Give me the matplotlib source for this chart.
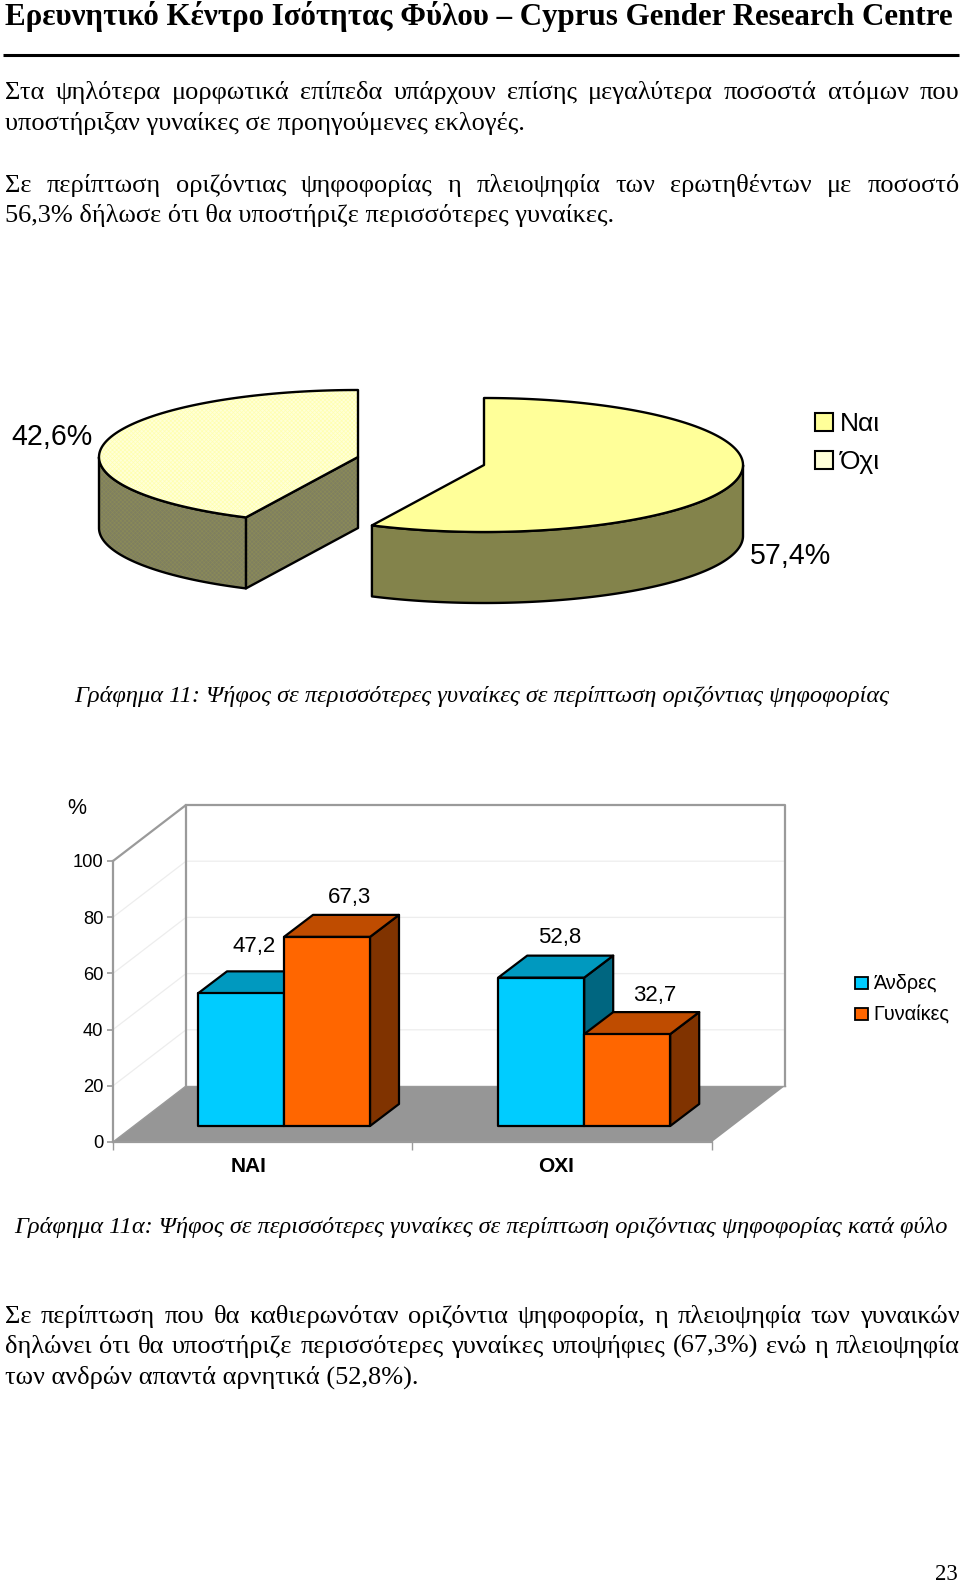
import numpy as np
import matplotlib
matplotlib.use("Agg")
import matplotlib.pyplot as plt
from matplotlib.patches import Rectangle

# ---- data ----
pie_labels = ["Ναι", "Όχι"]
pie_values = [57.4, 42.6]
pie_texts = ["57,4%", "42,6%"]
bar_categories = ["ΝΑΙ", "ΟΧΙ"]
men_values = [47.2, 52.8]
women_values = [67.3, 32.7]
men_texts = ["47,2", "52,8"]
women_texts = ["67,3", "32,7"]
series_labels = ["Άνδρες", "Γυναίκες"]
y_ticks = [0, 20, 40, 60, 80, 100]

header = "Ερευνητικό Κέντρο Ισότητας Φύλου – Cyprus Gender Research Centre"
para_lines = [
    ("Στα ψηλότερα μορφωτικά επίπεδα υπάρχουν επίσης μεγαλύτερα ποσοστά ατόμων που", 99, True),
    ("υποστήριξαν γυναίκες σε προηγούμενες εκλογές.", 130, False),
    ("Σε περίπτωση οριζόντιας ψηφοφορίας η πλειοψηφία των ερωτηθέντων με ποσοστό", 192, True),
    ("56,3% δήλωσε ότι θα υποστήριζε περισσότερες γυναίκες.", 222, False),
    ("Σε περίπτωση που θα καθιερωνόταν οριζόντια ψηφοφορία, η πλειοψηφία των γυναικών", 1323, True),
    ("δηλώνει ότι θα υποστήριζε περισσότερες γυναίκες υποψήφιες (67,3%) ενώ η πλειοψηφία", 1353, True),
    ("των ανδρών απαντά αρνητικά (52,8%).", 1384, False),
]
caption_1 = "Γράφημα 11: Ψήφος σε περισσότερες γυναίκες σε περίπτωση οριζόντιας ψηφοφορίας"
caption_2 = "Γράφημα 11α: Ψήφος σε περισσότερες γυναίκες σε περίπτωση οριζόντιας ψηφοφορίας κατά φύλο"
page_number = "23"

SERIF = "Liberation Serif"
SANS = "Liberation Sans"

fig = plt.figure(figsize=(9.6, 15.84), dpi=100, facecolor="white")
page = fig.add_axes([0, 0, 1, 1])
page.set_xlim(0, 960)
page.set_ylim(1584, 0)
page.axis("off")
renderer = fig.canvas.get_renderer()


def width_of(s, **kw):
    t = page.text(0, 0, s, **kw)
    w = t.get_window_extent(renderer).width
    t.remove()
    return w


def justified(line, y, x0, x1, justify, **kw):
    if not justify:
        page.text(x0, y, line, va="baseline", ha="left", **kw)
        return
    words = line.split(" ")
    widths = [width_of(w, **kw) for w in words]
    gap = (x1 - x0 - sum(widths)) / (len(words) - 1)
    x = x0
    for w, wd in zip(words, widths):
        page.text(x, y, w, va="baseline", ha="left", **kw)
        x += wd + gap


# ---- page text ----
page.text(5, 25, header, family=SERIF, weight="bold", fontsize=22.3, va="baseline", color="black")
page.plot([3, 959], [55, 55], color="black", lw=2.2, solid_capstyle="butt")
for line, y, just in para_lines:
    justified(line, y, 5, 959.5, just, family=SERIF, fontsize=19, color="black")
page.text(482, 702, caption_1, family=SERIF, style="italic", fontsize=17.6, ha="center", va="baseline")
page.text(481, 1233, caption_2, family=SERIF, style="italic", fontsize=17.6, ha="center", va="baseline")
page.text(958, 1580, page_number, family=SERIF, fontsize=16.5, ha="right", va="baseline")

# ---- exploded 3-D pie ----
RX, RY, DEPTH = 259, 67, 71
PROJ = -1.0   # small shift of the slice boundary caused by the 3-D projection
EDGE = dict(edgecolor="black", linewidth=1.7, joinstyle="round")
COL_YES, COL_YES_SIDE = "#FFFF99", "#83834B"
COL_NO, COL_NO_SIDE = "#FFFFD8", "#7F7F60"
HATCH_NO, HATCH_NO_SIDE = "#FFFFB0", "#8A8A58"
plt.rcParams["hatch.linewidth"] = 0.5


def ell(cx, cy, deg):
    """deg is measured clockwise from 12 o'clock."""
    r = np.radians(deg)
    return cx + RX * np.sin(r), cy - RY * np.cos(r)


def dithered(xs, ys, face, pattern):
    page.fill(xs, ys, facecolor=face, edgecolor="none")
    page.fill(xs, ys, facecolor="none", edgecolor=pattern, hatch="xxxxxxxx", linewidth=0)
    page.fill(xs, ys, facecolor="none", **EDGE)


# "Όχι" slice: clockwise from (360 - share) to 360
no_start = 360 - pie_values[1] * 3.6 + PROJ
cx, cy = 358, 457
th = np.linspace(no_start, 360, 200)
x, y = ell(cx, cy, th)
dithered([x[0], cx, cx, x[0]], [y[0], cy, cy + DEPTH, y[0] + DEPTH], COL_NO_SIDE, HATCH_NO_SIDE)
wx, wy = ell(cx, cy, np.linspace(no_start, 270, 100))
dithered(np.r_[wx, wx[::-1]], np.r_[wy, wy[::-1] + DEPTH], COL_NO_SIDE, HATCH_NO_SIDE)
dithered(np.r_[cx, x], np.r_[cy, y], COL_NO, HATCH_NO)

# "Ναι" slice: clockwise from 12 o'clock by its share
yes_end = pie_values[0] * 3.6 + PROJ
cx2, cy2 = 484, 465
x2, y2 = ell(cx2, cy2, np.linspace(0, yes_end, 240))
wx2, wy2 = ell(cx2, cy2, np.linspace(90, yes_end, 200))
page.fill(np.r_[wx2, wx2[::-1]], np.r_[wy2, wy2[::-1] + DEPTH], facecolor=COL_YES_SIDE, **EDGE)
page.fill(np.r_[cx2, x2], np.r_[cy2, y2], facecolor=COL_YES, **EDGE)

page.text(52, 437, pie_texts[1], family=SANS, fontsize=20.6, ha="center", va="center")
page.text(791, 556, pie_texts[0], family=SANS, fontsize=20.6, ha="center", va="center")

for lab, col, y0, base in zip(pie_labels, [COL_YES, COL_NO], [413, 451], [431, 469]):
    page.add_patch(Rectangle((815, y0), 18, 18, facecolor=col, edgecolor="black", linewidth=1.5))
    page.text(840, base, lab, family=SANS, fontsize=19, va="baseline", ha="left")

# ---- 3-D bar chart: front plane 113..712 px wide, 0..100 on 1142..861 px ----
ax = fig.add_axes([113 / 960, 1 - 1142 / 1584, (712 - 113) / 960, (1142 - 861) / 1584])
ax.set_xlim(0, 2)
ax.set_ylim(0, 100)
ax.patch.set_visible(False)
for s in ["top", "right"]:
    ax.spines[s].set_visible(False)
WALL = "#9A9A9A"
for s in ["left", "bottom"]:
    ax.spines[s].set_color(WALL)
    ax.spines[s].set_linewidth(1.6)
ax.set_yticks(y_ticks)
ax.set_yticklabels([str(v) for v in y_ticks], family=SANS, fontsize=13.2)
ax.tick_params(axis="y", length=4, width=1.2, color=WALL, pad=3)
ax.set_xticks([0, 1, 2])
ax.set_xticklabels([])
ax.tick_params(axis="x", length=6, width=1, color=WALL)
ax.set_xticks([0.452, 1.479], minor=True)
ax.set_xticklabels(bar_categories, minor=True, family=SANS, weight="bold", fontsize=15)
ax.tick_params(axis="x", which="minor", length=0, pad=11)

WX, WY = 73 / 299.5, 56 / 2.81   # depth of the floor
BX, BY = 29 / 299.5, 22 / 2.81   # depth of a bar
BASE = 16 / 2.81                 # bars stand this far behind the front edge
BW = 86 / 299.5
BAR_X0 = 85 / 299.5
GROUP_STEP = 300.2 / 299.5

# floor and walls
ax.fill([0, 2, 2 + WX, WX], [0, 0, WY, WY], facecolor="#969696", edgecolor="none", clip_on=False, zorder=1)
for v in y_ticks[1:-1]:
    ax.plot([0, WX, 2 + WX], [v, v + WY, v + WY], color="#EDEDED", lw=0.9, clip_on=False, zorder=0.5)
ax.plot([0, WX, WX], [100, 100 + WY, WY], color=WALL, lw=1.6, clip_on=False, zorder=1.2)
ax.plot([WX, 2 + WX, 2 + WX], [100 + WY, 100 + WY, WY], color=WALL, lw=1.6, clip_on=False, zorder=1.2)
ax.plot([0, WX], [0, WY], color=WALL, lw=1.0, clip_on=False, zorder=1.2)
ax.plot([WX, 2 + WX], [WY, WY], color=WALL, lw=1.0, clip_on=False, zorder=1.2)

BAR_EDGE = dict(edgecolor="black", linewidth=1.6, joinstyle="round", clip_on=False)


def bar3d(x, v, front, top, side, z):
    y0, y1 = BASE, BASE + v
    ax.fill([x + BW, x + BW + BX, x + BW + BX, x + BW],
            [y0, y0 + BY, y1 + BY, y1], facecolor=side, zorder=z, **BAR_EDGE)
    ax.fill([x, x + BW, x + BW + BX, x + BX],
            [y1, y1, y1 + BY, y1 + BY], facecolor=top, zorder=z, **BAR_EDGE)
    ax.fill([x, x + BW, x + BW, x], [y0, y0, y1, y1], facecolor=front, zorder=z, **BAR_EDGE)


# label offsets from the top centre of each bar's front face, in pixels
men_offsets = [(13, 47), (18, 40)]
women_offsets = [(23, 39), (28, 39)]
for i in range(2):
    x_men = i * GROUP_STEP + BAR_X0
    x_women = x_men + BW
    bar3d(x_men, men_values[i], "#00CCFF", "#0099BF", "#006680", 2)
    bar3d(x_women, women_values[i], "#FF6600", "#BF4C00", "#803300", 3)
    for xb, v, txt, (dx, dy) in ((x_men, men_values[i], men_texts[i], men_offsets[i]),
                                 (x_women, women_values[i], women_texts[i], women_offsets[i])):
        ax.annotate(txt, (xb + BW / 2, v + BASE), xytext=(dx * 0.72, dy * 0.72),
                    textcoords="offset points", family=SANS, fontsize=16,
                    ha="center", va="center", zorder=5, annotation_clip=False)

# "%" axis title and legend
page.text(77, 808, "%", family=SANS, fontsize=15.5, ha="center", va="center")
for lab, col, y0, base in zip(series_labels, ["#00CCFF", "#FF6600"], [977, 1008], [989, 1020]):
    page.add_patch(Rectangle((855, y0), 13, 12, facecolor=col, edgecolor="black", linewidth=1.3))
    page.text(873, base, lab, family=SANS, fontsize=14.3, va="baseline", ha="left")

fig.savefig("out.png", dpi=100)
